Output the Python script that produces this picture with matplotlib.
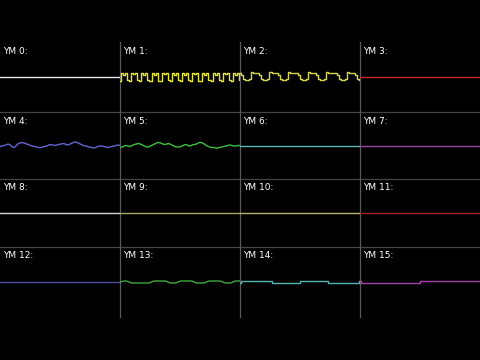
import matplotlib
matplotlib.use("Agg")
import matplotlib.pyplot as plt
import numpy as np

# channel names and colours, row by row
labels = ["YM %d:" % i for i in range(16)]
colors = ["#e8e8e8", "#e6e632", "#d8d850", "#c82828",
          "#6464d2", "#40c040", "#60b4b4", "#a040a0",
          "#d4d4d4", "#a8a860", "#b4b470", "#a82030",
          "#4c4ca4", "#40a840", "#50b4b4", "#a444ac"]

# waveforms, offsets in pixels from the row centre (2 px per sample)
ym0 = [0, 0]
ym1 = [-4, 4, 2, 4, -3, -4, 4, 3, 4, -3, -4, 4, 2, 4, -3, -4, 4, 2, 4, -4,
       -4, 4, 3, 4, -3, -4, 4, 2, 4, -3, -4, 4, 2, 4, -3, -4, 4, 3, 4, -4,
       -4, 4, 2, 4, -3, -4, 4, 2, 4, -3, -4, 4, 3, 4, -3, -4, 4, 2, 4, -3]
ym2 = [4, 2, -2, -3, -3, -2, 5, 4, 4, 4, 2, -2, -3, -3, -2, 5, 4, 4, 4, 2,
       -2, -3, -3, -2, 5, 4, 4, 4, 4, 2, -2, -3, -3, -2, 5, 4, 4, 4, 2, -2,
       -3, -3, -2, 5, 4, 4, 4, 4, 2, -2, -3, -3, -2, 5, 4, 4, 4, 2, -2, -3]
ym3 = [0, 0]
ym4 = [-1, -0.5, 0, 0.5, 1.5, 0.5, -1.5, -2, 0, 2, 2.5, 3, 2.5, 1.5, 1, 0,
       -0.5, -1, -1.5, -2, -2, -1.5, -1, -0.5, 0.5, 1, 0.5, 0, 0.5, 1, 1.5,
       2, 1.5, 0.5, 1, 2, 3, 3.5, 3, 2, 1, 0, -0.5, -1, -1.5, -2, -2.5, -2,
       -1, -0.5, -0.5, -1, -1.5, -2, -1.5, -1, -0.5, 0, 0.5, 0]
ym5 = [-2, -1.5, -0.5, 0, -0.5, -1, 0, 1, 1.5, 2, 1.5, 0.5, -0.5, -1.5, -1.5,
       -0.5, 0.5, 1.5, 2.5, 3, 2.5, 1.5, 1, 1.5, 2, 1, 0, -1, -1.5, -1.5, -1,
       0, 1, 0.5, -0.5, 0, 1, 1, 2, 3, 3, 2, 0.5, -0.5, -1.5, -2, -2, -2.5,
       -2.5, -2, -1.5, -1, -0.5, 0, 0.5, 0, -0.5, -0.5, 0, 0]
ym6 = [0, 0]
ym7 = [0, 0]
ym8 = [0, 0]
ym9 = [0, 0]
ym10 = [0, 0]
ym11 = [0, 0]
ym12 = [0, 0]
ym13 = [0, 0.5, 1, 1, 0.5, -0.5, -1, -1, -1, -1, -1, -1, -1, -1, -1, -0.5,
        0.5, 1, 1, 1, 1, 1, 1, 0.5, -0.5, -1, -1, -1, -0.5, 0.5, 1, 1, 1, 1,
        1, 1, 0.5, -0.5, -1, -1, -1, -1, -0.5, 0.5, 1, 1, 1, 1, 1, 1, 0.5,
        -0.5, -1, -1, -1, -0.5, 0.5, 1, 1, 1]
ym14 = [-1, 1, 1, 1, 1, 1, 1, 1, 1, 1, 1, 1, 1, 1, 1, 1, -1, -1, -1, -1,
        -1, -1, -1, -1, -1, -1, -1, -1, -1, -1, 1, 1, 1, 1, 1, 1, 1, 1, 1, 1,
        1, 1, 1, 1, -1, -1, -1, -1, -1, -1, -1, -1, -1, -1, -1, -1, -1, -1,
        -1, 1]
ym15 = [1, -0.7, -0.7, -0.7, -0.7, -0.7, -0.7, -0.7, -0.7, -0.7, -0.7, -0.7,
        -0.7, -0.7, -0.7, -0.7, -0.7, -0.7, -0.7, -0.7, -0.7, -0.7, -0.7,
        -0.7, -0.7, -0.7, -0.7, -0.7, -0.7, -0.7, 1, 1, 1, 1, 1, 1, 1, 1, 1,
        1, 1, 1, 1, 1, 1, 1, 1, 1, 1, 1, 1, 1, 1, 1, 1, 1, 1, 1, 1, 1]
waves = [ym0, ym1, ym2, ym3, ym4, ym5, ym6, ym7,
         ym8, ym9, ym10, ym11, ym12, ym13, ym14, ym15]
stepped = [1, 2, 14, 15]

W, H = 480, 360
rows = [(42, 112), (112, 179), (179, 247), (247, 317)]
col_w = 120

fig = plt.figure(figsize=(4.8, 3.6), dpi=100, facecolor="black")
bg = fig.add_axes([0, 0, 1, 1])
bg.set_facecolor("black")
bg.set_xlim(0, W)
bg.set_ylim(H, 0)
bg.axis("off")

# grid dividers
for r in range(1, 4):
    bg.plot([0, W], [rows[r][0], rows[r][0]], color="#454545", lw=0.9)
for c in range(1, 4):
    bg.plot([c * col_w - 0.5] * 2, [rows[0][0], rows[3][1]], color="#5a5a5a", lw=0.9)

for i in range(16):
    r, c = divmod(i, 4)
    top, bot = rows[r]
    h = bot - top
    bg.text(c * col_w + 3, top + 9, labels[i], color="white", fontsize=6.5,
            ha="left", va="center")
    ax = fig.add_axes([c * col_w / W, 1 - bot / H, col_w / W, h / H])
    ax.patch.set_alpha(0)
    ax.axis("off")
    y = np.array(waves[i], dtype=float)
    x = np.arange(len(y))
    ds = "steps-mid" if i in stepped else "default"
    ax.plot(x, y, color=colors[i], lw=1.0, drawstyle=ds)
    ax.set_xlim(0, len(y) - 1)
    ax.set_ylim(-h / 2, h / 2)

fig.savefig("out.png", dpi=100, facecolor="black")
